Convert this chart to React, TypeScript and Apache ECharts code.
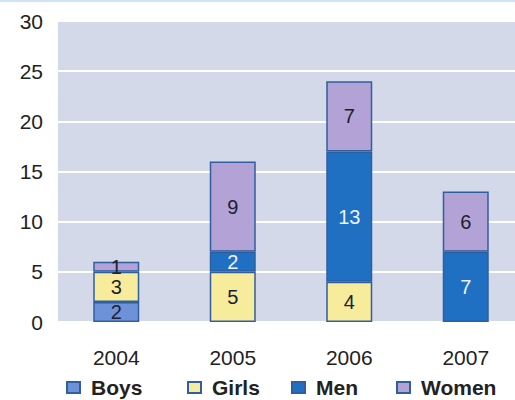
import React, { useEffect, useRef } from "react";
import * as echarts from "echarts";

const years = ["2004", "2005", "2006", "2007"];
const boys = [2, 0, 0, 0];
const girls = [3, 5, 4, 0];
const men = [0, 2, 13, 7];
const women = [1, 9, 7, 6];
const yTicks = { min: 0, max: 30, interval: 5 };
const legendNames = ["Boys", "Girls", "Men", "Women"];

const FONT = "'Liberation Sans', Arial, sans-serif";

export default function App() {
  const ref = useRef<HTMLDivElement>(null);
  useEffect(() => {
    const chart = echarts.init(ref.current!, null, { renderer: "svg" });
    const mk = (name: string, data: number[], color: string, labelColor: string) => ({
      name,
      type: "bar",
      stack: "total",
      barWidth: 46,
      data: data.map((v) => (v === 0 ? null : v)),
      itemStyle: { color, borderColor: "#2f5f9f", borderWidth: 1.5 },
      label: {
        show: true,
        position: "inside",
        color: labelColor,
        fontSize: 20,
        fontFamily: FONT,
      },
    });
    const legendLefts = [66, 187, 291, 396];
    chart.setOption({
      animation: false,
      backgroundColor: "#ffffff",
      grid: { left: 58, top: 21, width: 466, height: 301 },
      xAxis: {
        type: "category",
        data: years,
        axisLine: { show: false },
        axisTick: { show: false },
        axisLabel: { color: "#222", fontSize: 21, fontFamily: FONT, margin: 25 },
      },
      yAxis: {
        type: "value",
        min: yTicks.min,
        max: yTicks.max,
        interval: yTicks.interval,
        axisLine: { show: false },
        axisTick: { show: false },
        axisLabel: { color: "#222", fontSize: 21, fontFamily: FONT, margin: 15 },
        splitLine: { lineStyle: { color: "#ffffff", width: 2 } },
        splitArea: { show: true, areaStyle: { color: ["#d3d9e8", "#d3d9e8"] } },
      },
      legend: legendNames.map((n, i) => ({
        top: 377,
        left: legendLefts[i],
        itemWidth: 13,
        itemHeight: 11,
        icon: "rect",
        padding: 0,
        textStyle: {
          fontSize: 21,
          fontWeight: "bold",
          color: "#222",
          fontFamily: FONT,
          padding: [0, 0, 0, 6],
        },
        data: [n],
      })),
      series: [
        mk("Boys", boys, "#6e92d8", "#1c2030"),
        mk("Girls", girls, "#f6ec9c", "#1c2030"),
        mk("Men", men, "#1f6fc2", "#eef3fb"),
        mk("Women", women, "#b3a2d6", "#1c2030"),
      ],
      graphic: [
        { type: "rect", shape: { x: 0, y: 0, width: 530, height: 2 }, style: { fill: "#cfe3f5" } },
      ],
    });
    return () => chart.dispose();
  }, []);
  return <div ref={ref} style={{ width: 530, height: 400, position: "fixed", left: 0, top: 0 }} />;
}
